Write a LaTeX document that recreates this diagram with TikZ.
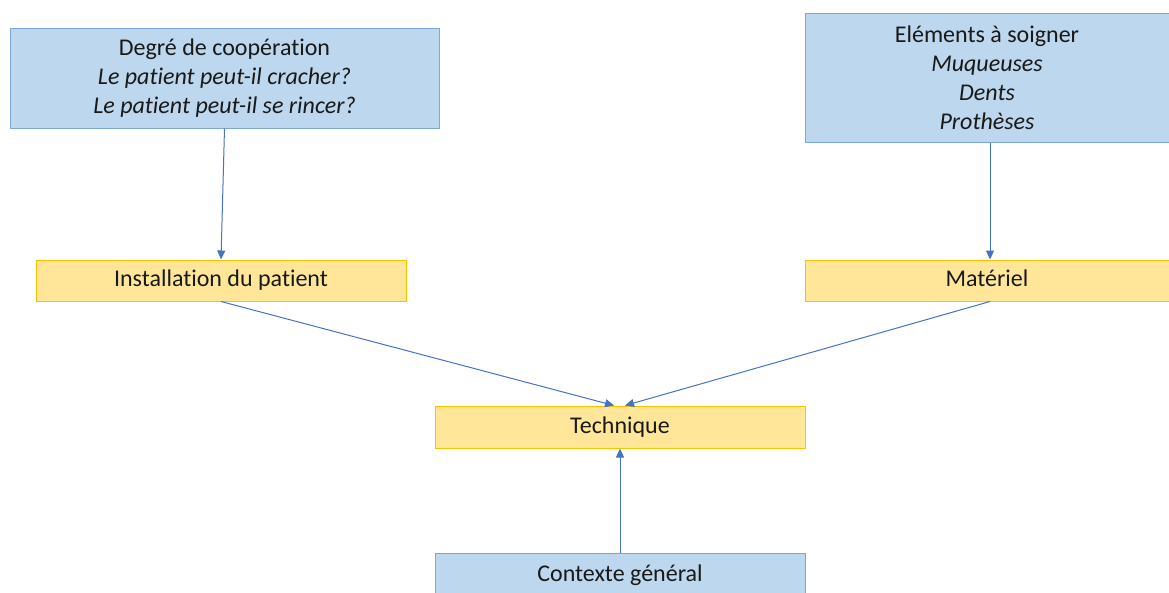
\documentclass[tikz,border=0pt]{standalone}
\usepackage{fontspec}
\setmainfont[Ligatures=NoCommon]{Carlito}
\usetikzlibrary{arrows.meta}
\definecolor{bluefill}{HTML}{BDD7EE}
\definecolor{blueline}{HTML}{7DA7DA}
\definecolor{yelfill}{HTML}{FFE699}
\definecolor{yelline}{HTML}{FFC000}
\definecolor{arrcol}{HTML}{4472C4}
\tikzset{
  bluebox/.style={draw=blueline, fill=bluefill, line width=1pt, inner sep=0pt, align=center, text=black!90},
  yelbox/.style={draw=yelline, fill=yelfill, line width=1pt, inner sep=0pt, align=center, text=black!90},
  oneline/.style={text height=16pt, text depth=4pt},
  arr/.style={draw=arrcol, line width=1pt, -{Triangle[length=9pt,width=8pt]}}
}
\begin{document}
\begin{tikzpicture}[x=1pt,y=-1pt, every node/.style={font=\fontsize{24}{29}\selectfont}]
\useasboundingbox (0,0) rectangle (1169,592);
\node[bluebox, minimum width=429pt, minimum height=100pt] (A) at (224.5,78)
  {Degré de coopération\\ \textit{Le patient peut-il cracher?}\\ \textit{Le patient peut-il se rincer?}};
\node[bluebox, minimum width=364pt, minimum height=129pt] (B) at (987,77.5)
  {Eléments à soigner\\ \textit{Muqueuses}\\ \textit{Dents}\\ \textit{Prothèses}};
\node[yelbox, oneline, minimum width=370pt, minimum height=41pt] (I) at (221,280.5) {Installation du patient};
\node[yelbox, oneline, minimum width=364pt, minimum height=41pt] (M) at (987,280.5) {Matériel};
\node[yelbox, oneline, minimum width=370pt, minimum height=42pt] (T) at (620,427) {Technique};
\node[bluebox, oneline, minimum width=370pt, minimum height=44pt] (C) at (620,575) {Contexte général};
\draw[arr] (A.south) -- (I.north);
\draw[arr] ([xshift=3pt]B.south) -- ([xshift=3pt]M.north);
\draw[arr] (I.south) -- ([xshift=-6pt]T.north);
\draw[arr] ([xshift=3pt]M.south) -- ([xshift=5pt]T.north);
\draw[arr] (C.north) -- (T.south);
\end{tikzpicture}
\end{document}
